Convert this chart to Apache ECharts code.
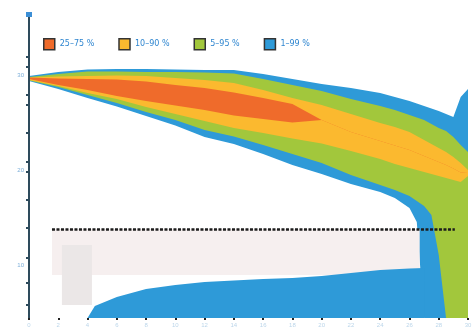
<!DOCTYPE html>
<html lang="de">
<head>
    <meta charset="UTF-8">
    <title>Fan chart</title>
    <script src="https://cdn.jsdelivr.net/npm/echarts@6/dist/echarts.min.js"></script>
    <style>
        html, body { margin: 0; padding: 0; background: #fff; }
    </style>
</head>
<body>
<div id="main" style="width: 474px;height:329px;"></div>

<script type="text/javascript">
    // x positions (years) and band edges
    const years = [0, 2, 4, 6, 8, 10, 12, 14, 16, 18, 20, 22, 24, 25, 26, 26.5, 27, 27.5, 28, 28.5, 29, 29.5, 30]

    const blueTop = [29.89, 30.31, 30.58, 30.63, 30.63, 30.58, 30.52, 30.52, 30.1, 29.58, 29.05, 28.63, 28.1, 27.68, 27.26, 27.0, 26.73, 26.47, 26.21, 25.89, 25.58, 27.68, 28.52]
    const greenTop = [29.79, 30.1, 30.37, 30.37, 30.31, 30.31, 30.26, 30.16, 29.58, 28.94, 28.31, 27.47, 26.73, 26.31, 25.79, 25.52, 25.26, 24.84, 24.42, 24.1, 23.47, 22.63, 21.89]
    const yellowTop = [29.73, 29.84, 29.89, 29.94, 29.89, 29.68, 29.47, 29.16, 28.42, 27.58, 26.84, 25.89, 24.94, 24.52, 23.99, 23.58, 23.16, 22.73, 22.31, 21.89, 21.37, 20.74, 20.0]
    const orangeTop = [29.73, 29.63, 29.58, 29.52, 29.31, 28.94, 28.63, 28.16, 27.58, 26.94, 25.26, 23.99, 23.05, 22.58, 22.1, 21.79, 21.47, 21.16, 20.84, 20.52, 20.16, 19.74, 19.68]
    const orangeBottom = [29.58, 28.94, 28.42, 27.79, 27.26, 26.79, 26.31, 25.74, 25.37, 25.0, 25.26, 23.99, 23.05, 22.58, 22.1, 21.79, 21.47, 21.16, 20.84, 20.52, 20.16, 19.74, 19.68]
    const yellowBottom = [29.47, 28.84, 28.1, 27.47, 26.63, 25.89, 25.16, 24.42, 23.89, 23.31, 22.79, 22.0, 21.16, 20.63, 20.21, 20.0, 19.79, 19.58, 19.37, 19.16, 18.95, 18.73, 19.37]
    const greenBottom = [29.42, 28.73, 27.89, 27.05, 26.1, 25.26, 24.21, 23.52, 22.63, 21.68, 20.73, 19.47, 18.42, 17.89, 17.26, 16.73, 16.21, 15.26, 11.05, 4.42, 4.42, 4.42, 4.42]
    const blueBottom = [29.37, 28.52, 27.58, 26.68, 25.68, 24.68, 23.47, 22.73, 21.68, 20.52, 19.58, 18.52, 17.68, 17.05, 16.0, 14.52, 4.42, 4.42, 4.42, 4.42, 4.42, 4.42, 4.42]

    // separate area at the bottom
    const lowYears = [4.0, 4.5, 6, 8, 10, 12, 14, 16, 18, 20, 22, 24, 26, 27]
    const lowValues = [4.42, 5.68, 6.63, 7.47, 7.89, 8.21, 8.37, 8.52, 8.63, 8.84, 9.16, 9.47, 9.63, 9.68]

    // threshold line and shaded zone
    const threshold = 13.79
    const thresholdFrom = 1.57
    const thresholdTo = 29.1
    const zoneBottom = 8.95
    const zoneTo = 26.7

    const names = ['25–75 %', '10–90 %', '5–95 %', '1–99 %']
    const yLabels = [10, 20, 30]
    const yTicks = [5.8, 8.1, 10.74, 13.9, 16.84, 19.8, 20.84, 23.9, 26.84, 27.9, 30.84, 31.9]

    const colors = {
        orange: '#ef6b2b',
        yellow: '#fbb92f',
        green: '#a2c73c',
        blue: '#2e9ad8'
    }
</script>

<script type="text/javascript">
    const myChart = echarts.init(document.getElementById('main'), null, {renderer: 'canvas'})

    function pairs(xs, ys) {
        return xs.map((x, i) => [x, ys[i]])
    }

    // each edge is filled down to the axis, painted from the outside in
    const layers = [
        {name: names[3], color: colors.blue, vals: blueTop},
        {name: names[2], color: colors.green, vals: greenTop},
        {name: names[1], color: colors.yellow, vals: yellowTop},
        {name: names[0], color: colors.orange, vals: orangeTop},
        {name: names[1], color: colors.yellow, vals: orangeBottom},
        {name: names[2], color: colors.green, vals: yellowBottom},
        {name: names[3], color: colors.blue, vals: greenBottom},
        {name: 'gap', color: '#ffffff', vals: blueBottom}
    ]

    const series = []

    layers.forEach((l, i) => {
        series.push({
            name: l.name,
            type: 'line',
            z: 2,
            symbol: 'none',
            silent: true,
            lineStyle: {width: 0},
            itemStyle: {color: l.color},
            areaStyle: {color: l.color, opacity: 1, origin: 'start'},
            data: pairs(years, l.vals)
        })
    })

    series.push({
        name: 'zone',
        type: 'line',
        z: 3,
        symbol: 'none',
        lineStyle: {width: 0, opacity: 0},
        data: pairs(lowYears, lowValues),
        markArea: {
            silent: true,
            z: 3,
            data: [
                [{coord: [thresholdFrom, threshold], itemStyle: {color: '#f6efef'}}, {coord: [zoneTo, zoneBottom]}],
                [{coord: [2.25, 12.1], itemStyle: {color: '#ebe7e7'}}, {coord: [4.3, 5.8]}]
            ]
        }
    }, {
        name: names[3],
        type: 'line',
        z: 4,
        symbol: 'none',
        silent: true,
        lineStyle: {width: 0},
        itemStyle: {color: colors.blue},
        areaStyle: {color: colors.blue, opacity: 1, origin: 'start'},
        data: pairs(lowYears, lowValues)
    }, {
        name: 'limit',
        type: 'line',
        z: 5,
        symbol: 'none',
        data: [],
        markLine: {
            silent: true,
            z: 6,
            symbol: 'none',
            label: {show: false},
            lineStyle: {color: '#1c1c1c', type: [3, 1.5], width: 2.5},
            data: [[{coord: [thresholdFrom, threshold]}, {coord: [thresholdTo, threshold]}]]
        }
    })

    const option = {
        animation: false,
        legend: {
            data: names.map((n, i) => ({
                name: n,
                itemStyle: {color: [colors.orange, colors.yellow, colors.green, colors.blue][i]}
            })),
            left: 38,
            top: 33,
            itemWidth: 11,
            itemHeight: 11,
            itemGap: 24,
            icon: 'rect',
            itemStyle: {borderColor: '#333', borderWidth: 1.5},
            textStyle: {color: '#2f86d0', fontSize: 8, fontFamily: 'DejaVu Sans'}
        },
        grid: {left: 29, right: 6, top: 15, bottom: 11, outerBoundsMode: 'none'},
        xAxis: {
            type: 'value',
            z: 10,
            min: 0,
            max: 30,
            interval: 2,
            axisLine: {show: false},
            axisTick: {show: true, length: 2, lineStyle: {color: '#222', width: 2}},
            axisLabel: {fontSize: 6, color: '#bcd6ea', margin: 4},
            splitLine: {show: false}
        },
        yAxis: {
            type: 'value',
            z: 10,
            min: 4.42,
            max: 36.32,
            axisLine: {show: true, lineStyle: {color: '#2e4b5c', width: 2}},
            axisTick: {show: true, length: 3, customValues: yTicks, lineStyle: {color: '#2e4b5c', width: 2}},
            axisLabel: {fontSize: 6, color: '#7fb0da', margin: 5, customValues: yLabels},
            splitLine: {show: false}
        },
        graphic: [{
            type: 'rect',
            z: 20,
            shape: {x: 26, y: 12, width: 6, height: 5},
            style: {fill: '#3c8fd6'}
        }],
        series: series
    }

    myChart.setOption(option)
</script>
</body>
</html>
